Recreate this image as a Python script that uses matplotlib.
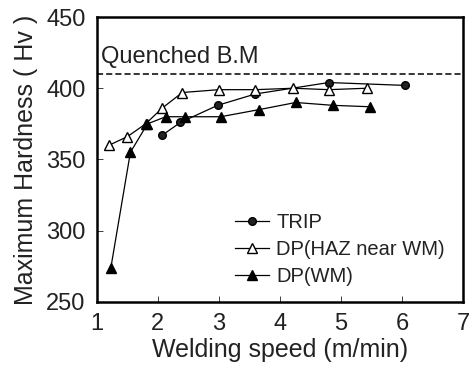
import matplotlib
matplotlib.use("Agg")
import matplotlib.pyplot as plt

plt.rcParams['font.family'] = ['Liberation Sans', 'DejaVu Sans']

trip_x = [2.07, 2.37, 2.98, 3.6, 4.8, 6.05]
trip_y = [367, 376, 388, 396, 404, 402]

haz_x = [1.2, 1.5, 1.8, 2.07, 2.4, 3.0, 3.6, 4.22, 4.8, 5.42]
haz_y = [360, 366, 375, 386, 397, 399, 399, 400, 399, 400]

wm_x = [1.23, 1.55, 1.83, 2.13, 2.44, 3.03, 3.66, 4.26, 4.87, 5.48]
wm_y = [274, 355, 375, 380, 380, 380, 385, 390, 388, 387]

quenched = 410

fig = plt.figure(figsize=(4.7, 3.7), dpi=100)
ax = fig.add_axes([0.206, 0.184, 0.779, 0.770])

ax.plot(trip_x, trip_y, '-o', color='black', mfc='#222222', mec='black', ms=5.5, lw=0.9, label='TRIP')
ax.plot(haz_x, haz_y, '-^', color='black', mfc='white', mec='black', ms=7, lw=0.9, label='DP(HAZ near WM)')
ax.plot(wm_x, wm_y, '-^', color='black', mfc='black', mec='black', ms=7, lw=0.9, label='DP(WM)')
ax.axhline(quenched, color='black', ls=(0, (4, 2)), lw=1.1)
ax.text(1.07, 422, 'Quenched B.M', fontsize=17, va='center', ha='left', color='#222222')

ax.set_xlim(1, 7)
ax.set_ylim(250, 450)
ax.set_xticks([1, 2, 3, 4, 5, 6, 7])
ax.set_yticks([250, 300, 350, 400, 450])
ax.tick_params(direction='in', length=4, width=0.6, labelsize=17, top=False, right=False, pad=8, colors='#222222', labelcolor='#222222')
for s in ax.spines.values():
    s.set_linewidth(1.8)
ax.set_xlabel('Welding speed (m/min)', fontsize=18, labelpad=2, color='#222222')
ax.set_ylabel('Maximum Hardness ( Hv )', fontsize=18, labelpad=6, color='#222222')

leg = ax.legend(loc='lower right', bbox_to_anchor=(0.984, 0.012), frameon=False, fontsize=14.5,
                handlelength=1.7, handletextpad=0.35, labelspacing=0.4, borderaxespad=0.2)
for t in leg.get_texts():
    t.set_color('#222222')

fig.savefig('out.png', dpi=100)
